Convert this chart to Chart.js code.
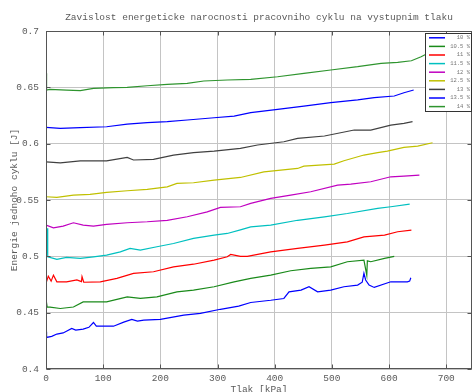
<!DOCTYPE html>
<html>
<head>
<meta charset="utf-8">
<script src="https://cdn.jsdelivr.net/npm/chart.js@4"></script>
<style>
  html, body { margin: 0; padding: 0; background: #fff; overflow: hidden; }
  canvas { display: block; }
</style>
</head>
<body>
<canvas id="c" width="472" height="400"></canvas>
<script>
// Measured cycle energy [J] versus outlet pressure [kPa], one series per setting
const seriesLabels = ['10 %', '10.5 %', '11 %', '11.5 %', '12 %', '12.5 %', '13 %', '13.5 %', '14 %'];

const p10 = [0, 1, 10, 19, 30, 45, 52, 65, 75, 83, 88, 95, 118, 136, 150, 160, 171, 200, 241, 270, 305, 337, 358, 393, 416, 425, 446, 460, 475, 498, 521, 545, 553, 556, 559, 565, 574, 603, 632, 636, 638];
const e10 = [0.433, 0.428, 0.429, 0.431, 0.432, 0.436, 0.4345, 0.4354, 0.437, 0.4413, 0.438, 0.438, 0.438, 0.4416, 0.444, 0.4425, 0.4433, 0.444, 0.4478, 0.4493, 0.453, 0.4558, 0.459, 0.461, 0.4626, 0.4685, 0.470, 0.473, 0.4685, 0.470, 0.473, 0.4745, 0.477, 0.485, 0.479, 0.4745, 0.4724, 0.4774, 0.4774, 0.478, 0.481];

const p105 = [0, 2, 7, 25, 48, 65, 83, 106, 142, 165, 194, 229, 258, 294, 329, 358, 393, 428, 463, 498, 527, 556, 561, 562, 568, 592, 609];
const e105 = [0.462, 0.455, 0.455, 0.4537, 0.455, 0.4596, 0.4596, 0.4596, 0.464, 0.4626, 0.464, 0.4685, 0.470, 0.473, 0.4774, 0.4804, 0.4833, 0.4872, 0.4893, 0.4907, 0.4952, 0.4966, 0.4833, 0.496, 0.4952, 0.4982, 0.500];

const p11 = [0, 4, 9, 13, 19, 36, 54, 62, 63, 66, 95, 124, 153, 188, 223, 258, 294, 317, 323, 340, 352, 393, 440, 487, 527, 556, 592, 615, 639];
const e11 = [0.476, 0.4824, 0.478, 0.4833, 0.4774, 0.4774, 0.479, 0.4775, 0.482, 0.477, 0.4774, 0.4804, 0.4848, 0.4863, 0.4907, 0.493, 0.4966, 0.4996, 0.5017, 0.500, 0.500, 0.504, 0.507, 0.510, 0.5129, 0.5173, 0.5188, 0.5218, 0.5233];

const p115 = [2, 3, 13, 19, 36, 60, 83, 106, 130, 147, 165, 194, 223, 258, 294, 317, 340, 358, 393, 440, 487, 527, 580, 603, 636];
const e115 = [0.525, 0.4996, 0.4982, 0.4973, 0.499, 0.4982, 0.4996, 0.501, 0.504, 0.507, 0.5055, 0.5085, 0.5114, 0.516, 0.5188, 0.5203, 0.5235, 0.5262, 0.5277, 0.532, 0.5351, 0.538, 0.5425, 0.544, 0.5464];

const p12 = [0, 13, 30, 48, 65, 83, 106, 142, 177, 212, 247, 282, 305, 340, 358, 393, 428, 463, 510, 533, 568, 603, 626, 653];
const e12 = [0.5277, 0.5253, 0.5268, 0.5298, 0.5277, 0.5268, 0.5283, 0.5298, 0.5307, 0.532, 0.5351, 0.5395, 0.5434, 0.544, 0.547, 0.5514, 0.5543, 0.5573, 0.5632, 0.5641, 0.5662, 0.5706, 0.5712, 0.572];

const p125 = [0, 19, 48, 77, 106, 142, 177, 212, 229, 258, 294, 340, 381, 440, 451, 504, 521, 556, 580, 597, 626, 650, 676];
const e125 = [0.5529, 0.5523, 0.5543, 0.555, 0.5567, 0.5582, 0.5594, 0.5617, 0.5647, 0.5653, 0.5677, 0.570, 0.575, 0.578, 0.580, 0.5819, 0.5848, 0.5899, 0.592, 0.5934, 0.5967, 0.5979, 0.6008];

const p13 = [0, 25, 60, 106, 142, 153, 188, 223, 258, 294, 340, 370, 416, 440, 487, 539, 568, 603, 626, 641];
const e13 = [0.5839, 0.583, 0.5848, 0.5848, 0.5878, 0.5855, 0.586, 0.5899, 0.592, 0.5934, 0.5958, 0.5988, 0.6017, 0.6047, 0.6068, 0.6121, 0.6121, 0.6165, 0.618, 0.6195];

const p135 = [0, 25, 60, 106, 142, 177, 212, 247, 294, 329, 358, 405, 451, 498, 545, 574, 609, 626, 643];
const e135 = [0.6145, 0.6136, 0.6142, 0.615, 0.6174, 0.6186, 0.6195, 0.621, 0.623, 0.6245, 0.6275, 0.6305, 0.6334, 0.6364, 0.6388, 0.6408, 0.6423, 0.6452, 0.6476];

const p14 = [0, 1, 7, 36, 60, 83, 118, 142, 177, 212, 247, 276, 317, 358, 405, 451, 498, 545, 586, 615, 639, 656, 668, 685];
const e14 = [0.6624, 0.6476, 0.6482, 0.6476, 0.647, 0.6491, 0.6497, 0.65, 0.6514, 0.6527, 0.6535, 0.6556, 0.6565, 0.6571, 0.6594, 0.6624, 0.6654, 0.6683, 0.6713, 0.6722, 0.6736, 0.6772, 0.6802, 0.683];

const pressures = [p10, p105, p11, p115, p12, p125, p13, p135, p14];
const energies  = [e10, e105, e11, e115, e12, e125, e13, e135, e14];
const colors = ['#0000ff', '#1a8a1a', '#ff0000', '#00c0c0', '#c000c0', '#c0c000', '#404040', '#0000ff', '#2e942e'];

const xTicks = [0, 100, 200, 300, 400, 500, 600, 700];

const FONT = "'Liberation Mono', 'DejaVu Sans Mono', monospace";
const TEXT = '#5a5a5a';

const datasets = seriesLabels.map((label, i) => ({
  label,
  data: pressures[i].map((p, j) => ({ x: p, y: energies[i][j] })),
  borderColor: colors[i],
  backgroundColor: colors[i],
  borderWidth: 1.2,
  pointRadius: 0,
  showLine: true,
  tension: 0
}));

// axes box with inward tick marks on all four sides
const framePlugin = {
  id: 'frame',
  afterDatasetsDraw(chart) {
    const { ctx, chartArea: a, scales: { x, y } } = chart;
    const L = Math.round(a.left) + 0.5, R = Math.round(a.right) - 0.5;
    const T = Math.round(a.top) + 0.5, B = Math.round(a.bottom) - 0.5;
    ctx.save();
    ctx.strokeStyle = '#555';
    ctx.lineWidth = 1;
    ctx.strokeRect(L, T, R - L, B - T);
    ctx.beginPath();
    x.ticks.forEach(t => {
      const px = Math.round(x.getPixelForValue(t.value)) + 0.5;
      ctx.moveTo(px, B); ctx.lineTo(px, B - 4);
      ctx.moveTo(px, T); ctx.lineTo(px, T + 4);
    });
    y.ticks.forEach(t => {
      const py = Math.round(y.getPixelForValue(t.value)) + 0.5;
      ctx.moveTo(L, py); ctx.lineTo(L + 4, py);
      ctx.moveTo(R, py); ctx.lineTo(R - 4, py);
    });
    ctx.stroke();
    ctx.restore();
  }
};

// boxed legend in the upper right corner of the plot
const legendPlugin = {
  id: 'boxLegend',
  afterDraw(chart) {
    const { ctx } = chart;
    const x0 = 425, y0 = 33, w = 47, h = 79;
    ctx.save();
    ctx.fillStyle = '#fff';
    ctx.fillRect(x0, y0, w, h);
    ctx.strokeStyle = '#333';
    ctx.lineWidth = 1;
    ctx.strokeRect(x0 + 0.5, y0 + 0.5, w - 1, h - 1);
    ctx.font = "5.5px " + FONT;
    ctx.textAlign = 'right';
    ctx.textBaseline = 'middle';
    chart.data.datasets.forEach((ds, i) => {
      const yy = y0 + 4.8 + i * 8.6;
      ctx.strokeStyle = ds.borderColor;
      ctx.lineWidth = 1.5;
      ctx.beginPath();
      ctx.moveTo(429, yy); ctx.lineTo(445, yy);
      ctx.stroke();
      ctx.fillStyle = '#777';
      ctx.fillText(ds.label, 470, yy);
    });
    ctx.restore();
  }
};

new Chart(document.getElementById('c'), {
  type: 'scatter',
  data: { datasets },
  options: {
    responsive: false,
    animation: false,
    devicePixelRatio: 1,
    layout: { padding: { left: 0, right: 0, top: 0, bottom: 0 } },
    plugins: {
      legend: { display: false },
      tooltip: { enabled: false },
      title: {
        display: true,
        fullSize: false,
        text: 'Zavislost energeticke narocnosti pracovniho cyklu na vystupnim tlaku',
        color: TEXT,
        font: { family: FONT, size: 9.5, weight: 'normal', lineHeight: 1.2 },
        padding: { top: 12, bottom: 7.6 }
      }
    },
    scales: {
      x: {
        type: 'linear',
        min: 0,
        max: 745,
        afterBuildTicks: s => { s.ticks = xTicks.map(v => ({ value: v })); },
        afterFit: s => { s.height = 31; },
        grid: { color: '#c4c4c4', borderDash: [1, 2], drawTicks: false, lineWidth: 1 },
        border: { display: false },
        ticks: {
          color: TEXT, padding: 4, maxRotation: 0,
          font: { family: FONT, size: 9.5 }
        },
        title: {
          display: true, text: 'Tlak [kPa]', color: TEXT,
          font: { family: FONT, size: 9.5, lineHeight: 1.2 },
          padding: { top: 0, bottom: 5 }
        }
      },
      y: {
        min: 0.4,
        max: 0.7,
        afterFit: s => { s.width = 46; },
        grid: { color: '#c4c4c4', borderDash: [1, 2], drawTicks: false, lineWidth: 1 },
        border: { display: false },
        ticks: {
          stepSize: 0.05, color: TEXT, padding: 7,
          font: { family: FONT, size: 9.5 },
          callback: v => String(parseFloat(v.toFixed(2)))
        },
        title: {
          display: true, text: 'Energie jednoho cyklu [J]', color: TEXT,
          font: { family: FONT, size: 9.5, lineHeight: 1.2 },
          padding: { top: 9, bottom: 0 }
        }
      }
    }
  },
  plugins: [framePlugin, legendPlugin]
});
</script>
</body>
</html>
